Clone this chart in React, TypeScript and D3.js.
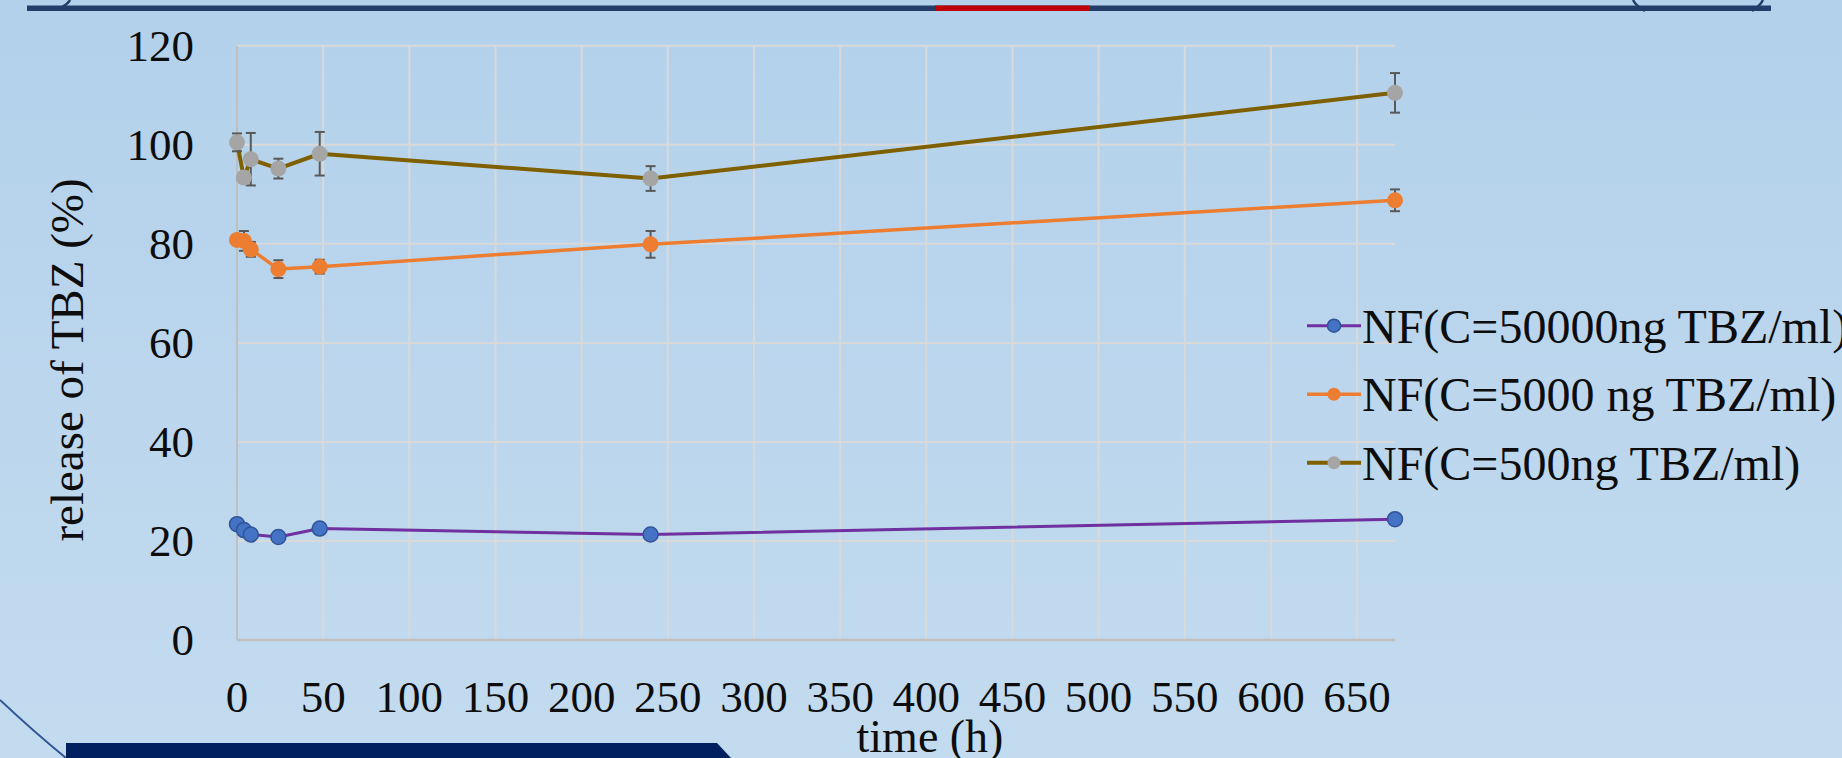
import React, { useRef, useEffect } from "react";
import * as d3 from "d3";

// Tiempos de muestreo (h)
const times = [0, 4, 8, 24, 48, 240, 672];

// Liberación (%) por serie
const nf50000 = [23.4, 22.2, 21.3, 20.8, 22.5, 21.3, 24.4];
const nf5000 = [80.8, 80.6, 78.9, 74.9, 75.4, 79.9, 88.8];
const nf500 = [100.5, 93.4, 97.1, 95.2, 98.2, 93.2, 110.5];

// Barras de error (+/-)
const err50000 = [0.4, 0.4, 0.4, 0.4, 0.4, 0.4, 0.4];
const err5000 = [1.0, 2.0, 1.5, 1.8, 1.4, 2.7, 2.2];
const err500 = [1.8, 1.0, 5.3, 2.0, 4.4, 2.5, 4.0];

const seriesNames = [
  "NF(C=50000ng TBZ/ml)",
  "NF(C=5000 ng TBZ/ml)",
  "NF(C=500ng TBZ/ml)",
];

const xTicks = [0, 50, 100, 150, 200, 250, 300, 350, 400, 450, 500, 550, 600, 650];
const yTicks = [0, 20, 40, 60, 80, 100, 120];

const FONT = "'Liberation Serif', 'Times New Roman', serif";

const Chart = ({ width = 1842, height = 758 }) => {
  const d3Container = useRef(null);

  useEffect(() => {
    const container = d3Container.current;
    if (!container) return;
    d3.select(container).selectChildren().remove();

    const svg = d3.select(container);

    // Fondo degradado
    const defs = svg.append("defs");
    const grad = defs
      .append("linearGradient")
      .attr("id", "bg")
      .attr("x1", 0)
      .attr("y1", 0)
      .attr("x2", 0)
      .attr("y2", 1);
    grad.append("stop").attr("offset", "0%").attr("stop-color", "#b3d1eb");
    grad.append("stop").attr("offset", "100%").attr("stop-color", "#c3dbef");
    svg
      .append("rect")
      .attr("width", width)
      .attr("height", height)
      .attr("fill", "url(#bg)");

    // Adornos de la diapositiva
    svg.append("rect").attr("x", 27).attr("y", 5.5).attr("width", 1744).attr("height", 5.5).attr("fill", "#243e6a");
    svg.append("rect").attr("x", 935).attr("y", 5.5).attr("width", 155).attr("height", 5.5).attr("fill", "#c00000");
    const deco = [
      "M70,0 Q68,4 62,7",
      "M1633,0 Q1636,6 1645,11",
      "M1763,0 Q1760,6 1752,11",
    ];
    deco.forEach((d) =>
      svg.append("path").attr("d", d).attr("fill", "none").attr("stroke", "#243e6a").attr("stroke-width", 2.5)
    );
    svg
      .append("path")
      .attr("d", "M0,700 Q34,732 66,758")
      .attr("fill", "none")
      .attr("stroke", "#2f5597")
      .attr("stroke-width", 2);
    svg
      .append("path")
      .attr("d", "M66,743 L717,743 L731,758 L66,758 Z")
      .attr("fill", "#002060");

    const margin = { top: 45.8, left: 237, right: 1395, bottom: 640 };

    const x = d3.scaleLinear().domain([0, 672]).range([margin.left, margin.right]);
    const y = d3.scaleLinear().domain([0, 120]).range([margin.bottom, margin.top]);

    // Rejilla
    const grid = svg.append("g");
    grid
      .selectAll("line.v")
      .data(xTicks.filter((t) => t > 0))
      .enter()
      .append("line")
      .attr("x1", (d) => x(d))
      .attr("x2", (d) => x(d))
      .attr("y1", y(0))
      .attr("y2", y(120))
      .attr("stroke", "#d9d9d9")
      .attr("stroke-width", 2);
    grid
      .selectAll("line.h")
      .data(yTicks.filter((t) => t > 0))
      .enter()
      .append("line")
      .attr("x1", x(0))
      .attr("x2", x(672))
      .attr("y1", (d) => y(d))
      .attr("y2", (d) => y(d))
      .attr("stroke", "#d9d9d9")
      .attr("stroke-width", 2);

    // Ejes
    svg.append("line").attr("x1", x(0)).attr("x2", x(0)).attr("y1", y(0)).attr("y2", y(120)).attr("stroke", "#bfbfbf").attr("stroke-width", 2);
    svg.append("line").attr("x1", x(0)).attr("x2", x(672)).attr("y1", y(0)).attr("y2", y(0)).attr("stroke", "#bfbfbf").attr("stroke-width", 2.5);

    // Etiquetas de ejes
    svg
      .append("g")
      .selectAll("text")
      .data(yTicks)
      .enter()
      .append("text")
      .attr("x", 194)
      .attr("y", (d) => y(d) + 15)
      .attr("text-anchor", "end")
      .style("font-family", FONT)
      .style("font-size", "45px")
      .attr("fill", "#0d0d0d")
      .text((d) => d);

    svg
      .append("g")
      .selectAll("text")
      .data(xTicks)
      .enter()
      .append("text")
      .attr("x", (d) => x(d))
      .attr("y", 712)
      .attr("text-anchor", "middle")
      .style("font-family", FONT)
      .style("font-size", "45px")
      .attr("fill", "#0d0d0d")
      .text((d) => d);

    svg
      .append("text")
      .attr("transform", "translate(83, 360) rotate(-90)")
      .attr("text-anchor", "middle")
      .style("font-family", FONT)
      .style("font-size", "47px")
      .attr("fill", "#0d0d0d")
      .text("release of TBZ (%)");

    svg
      .append("text")
      .attr("x", 930)
      .attr("y", 752)
      .attr("text-anchor", "middle")
      .style("font-family", FONT)
      .style("font-size", "46px")
      .attr("fill", "#0d0d0d")
      .text("time (h)");

    // Series
    const series = [
      { name: seriesNames[0], values: nf50000, err: err50000, line: "#7030a0", fill: "#4472c4", stroke: "#2f5597", lw: 3, r: 7.5 },
      { name: seriesNames[1], values: nf5000, err: err5000, line: "#ed7d31", fill: "#ed7d31", stroke: "none", lw: 3.5, r: 8 },
      { name: seriesNames[2], values: nf500, err: err500, line: "#7f6000", fill: "#a5a5a5", stroke: "none", lw: 4, r: 8 },
    ];

    const lineGen = d3
      .line()
      .x((d) => x(d[0]))
      .y((d) => y(d[1]));

    series.forEach((s) => {
      const pts = times.map((t, i) => [t, s.values[i], s.err[i]]);
      const g = svg.append("g");

      g.append("path")
        .attr("d", lineGen(pts))
        .attr("fill", "none")
        .attr("stroke", s.line)
        .attr("stroke-width", s.lw)
        .attr("stroke-linejoin", "round");

      // Barras de error
      const eb = g.selectAll("g.err").data(pts).enter().append("g");
      eb.append("line")
        .attr("x1", (d) => x(d[0]))
        .attr("x2", (d) => x(d[0]))
        .attr("y1", (d) => y(d[1] + d[2]))
        .attr("y2", (d) => y(d[1] - d[2]))
        .attr("stroke", "#595959")
        .attr("stroke-width", 2);
      [1, -1].forEach((sg) =>
        eb
          .append("line")
          .attr("x1", (d) => x(d[0]) - 5)
          .attr("x2", (d) => x(d[0]) + 5)
          .attr("y1", (d) => y(d[1] + sg * d[2]))
          .attr("y2", (d) => y(d[1] + sg * d[2]))
          .attr("stroke", "#595959")
          .attr("stroke-width", 2)
      );

      g.selectAll("circle")
        .data(pts)
        .enter()
        .append("circle")
        .attr("cx", (d) => x(d[0]))
        .attr("cy", (d) => y(d[1]))
        .attr("r", s.r)
        .attr("fill", s.fill)
        .attr("stroke", s.stroke)
        .attr("stroke-width", 1.5);
    });

    // Leyenda
    const legend = svg
      .append("g")
      .selectAll("g")
      .data(series)
      .enter()
      .append("g")
      .attr("transform", (d, i) => `translate(1307, ${325.7 + i * 68.5})`);
    legend
      .append("line")
      .attr("x1", 0)
      .attr("x2", 54)
      .attr("stroke", (d) => d.line)
      .attr("stroke-width", (d) => d.lw);
    legend
      .append("circle")
      .attr("cx", 27)
      .attr("r", 6.5)
      .attr("fill", (d) => d.fill)
      .attr("stroke", (d) => d.stroke)
      .attr("stroke-width", 1.5);
    legend
      .append("text")
      .attr("x", 55)
      .attr("y", 17)
      .style("font-family", FONT)
      .style("font-size", "48px")
      .attr("fill", "#0d0d0d")
      .text((d) => d.name);
  }, [width, height]);

  return (
    <svg
      width={width}
      height={height}
      ref={d3Container}
      style={{ position: "absolute", left: 0, top: 0, display: "block" }}
    />
  );
};

export default function App() {
  return <Chart />;
}
